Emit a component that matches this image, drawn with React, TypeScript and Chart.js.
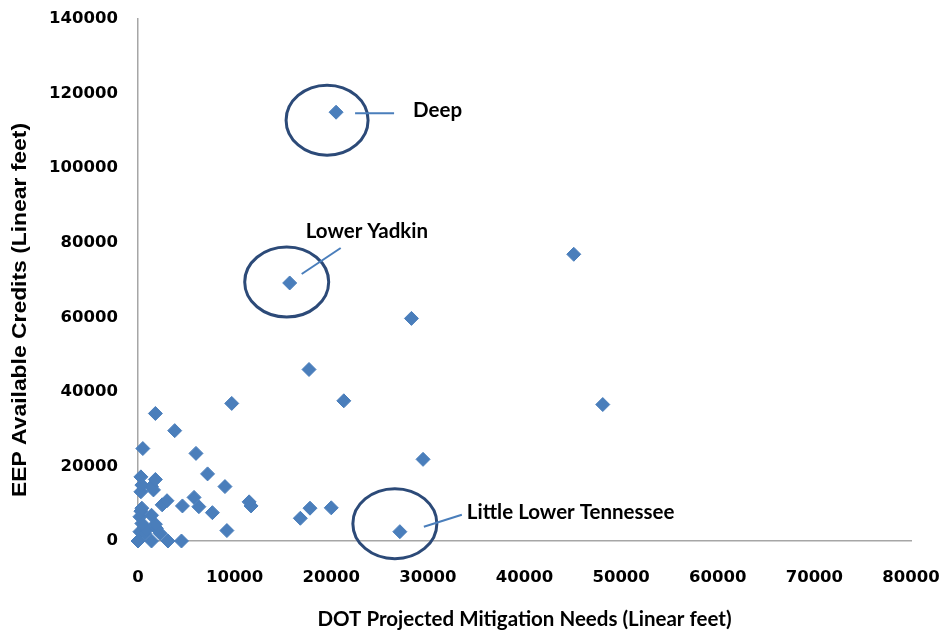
import React, { useEffect, useRef } from "react";
import { Chart, registerables } from "chart.js";

Chart.register(...registerables);

// DOT projected mitigation needs (linear feet) per river basin
const needsX = [
  0, 1400, 3100, 4500,
  200, 700, 2300, 900, 1900,
  400, 1800, 200, 1400, 300, 400,
  2500, 3000, 4600, 5800, 6300, 7700,
  9200, 11700, 11500, 17800, 16800, 20000, 27100,
  300, 1600, 1400, 400, 9000,
  300, 1800, 7200,
  500, 6000, 3800, 1800, 9700,
  17700, 21300, 29500, 28300, 45100, 48100,
  15700, 20500,
];
// EEP available credits (linear feet)
const creditsY = [
  0, 0, 0, 0,
  2500, 2000, 2000, 3000, 3400,
  4700, 4500, 6500, 6900, 8000, 8800,
  9700, 10800, 9400, 11700, 9200, 7600,
  2800, 9400, 10500, 8800, 6100, 8900, 2500,
  13200, 13700, 14600, 15000, 14600,
  17200, 16500, 18000,
  24800, 23500, 29600, 34200, 36900,
  46000, 37600, 21900, 59700, 76900, 36600,
  69200, 115000,
];

const xTicks = [0, 10000, 20000, 30000, 40000, 50000, 60000, 70000, 80000];
const yTicks = [0, 20000, 40000, 60000, 80000, 100000, 120000, 140000];

const xTitle = "DOT Projected Mitigation Needs (Linear feet)";
const yTitle = "EEP Available Credits (Linear feet)";

// Highlighted basins (index into the data arrays)
const calloutLabels = ["Deep", "Lower Yadkin", "Little Lower Tennessee"];
const calloutIndex = [48, 47, 27];

// Drawing geometry for callouts (pixel offsets from the marked point)
const CALLOUT_GEOM = [
  { ex: -9, ey: 8, rx: 41, ry: 35, l1: [19, 1], l2: [58, 1], t: [77, -2] },
  { ex: -3, ey: -1, rx: 42, ry: 35, l1: [12, -9], l2: [51, -35], t: [16, -52] },
  { ex: -5, ey: -8, rx: 42, ry: 35, l1: [24, -5], l2: [62, -17], t: [67, -19] },
];

const MARKER = "#4a7ebb";

const calloutPlugin = {
  id: "callouts",
  afterDatasetsDraw(chart: any) {
    const { ctx, scales } = chart;
    const xs = scales.x;
    const ys = scales.y;
    ctx.save();
    calloutIndex.forEach((idx, i) => {
      const g = CALLOUT_GEOM[i];
      const px = xs.getPixelForValue(needsX[idx]);
      const py = ys.getPixelForValue(creditsY[idx]);
      ctx.beginPath();
      ctx.ellipse(px + g.ex, py + g.ey, g.rx, g.ry, 0, 0, Math.PI * 2);
      ctx.lineWidth = 3;
      ctx.strokeStyle = "#2c4a78";
      ctx.stroke();
      ctx.beginPath();
      ctx.moveTo(px + g.l1[0], py + g.l1[1]);
      ctx.lineTo(px + g.l2[0], py + g.l2[1]);
      ctx.lineWidth = 2;
      ctx.strokeStyle = MARKER;
      ctx.stroke();
      ctx.font = "bold 20.5px Lato";
      ctx.fillStyle = "#000";
      ctx.textAlign = "left";
      ctx.textBaseline = "middle";
      ctx.fillText(calloutLabels[i], px + g.t[0], py + g.t[1]);
    });
    ctx.restore();
  },
};

const yTitlePlugin = {
  id: "yTitle",
  afterDraw(chart: any) {
    const { ctx, chartArea } = chart;
    ctx.save();
    ctx.translate(chartArea.left - 118, (chartArea.top + chartArea.bottom) / 2 + 30);
    ctx.rotate(-Math.PI / 2);
    ctx.font = "bold 20px 'Liberation Sans'";
    const w = ctx.measureText(yTitle).width;
    ctx.scale(374 / w, 1);
    ctx.fillStyle = "#000";
    ctx.textAlign = "center";
    ctx.textBaseline = "middle";
    ctx.fillText(yTitle, 0, 0);
    ctx.restore();
  },
};

export default function App() {
  const canvasRef = useRef<HTMLCanvasElement | null>(null);

  useEffect(() => {
    document.body.style.margin = "0";
    const canvas = canvasRef.current;
    if (!canvas) return;
    const tickFont = { family: "'DejaVu Sans'", weight: "bold" as const, size: 16.5 };
    const chart = new Chart(canvas, {
      type: "scatter",
      data: {
        datasets: [
          {
            data: needsX.map((x, i) => ({ x, y: creditsY[i] })),
            pointStyle: "rectRot",
            pointRadius: 7,
            pointBackgroundColor: MARKER,
            pointBorderColor: MARKER,
            pointBorderWidth: 1,
            showLine: false,
            clip: false,
          },
        ],
      },
      options: {
        responsive: false,
        animation: false,
        layout: { padding: { left: 0, top: 19, right: 33, bottom: 0 } },
        plugins: { legend: { display: false }, tooltip: { enabled: false } },
        scales: {
          x: {
            type: "linear",
            min: 0,
            max: 80000,
            afterBuildTicks: (s: any) => {
              s.ticks = xTicks.map((v) => ({ value: v }));
            },
            afterFit: (s: any) => {
              s.height = 96;
            },
            grid: {
              display: true,
              drawOnChartArea: false,
              drawTicks: true,
              tickLength: 27,
              tickColor: "rgba(0,0,0,0)",
              color: "rgba(0,0,0,0)",
            },
            border: { display: true, color: "#a6a6a6", width: 1.5 },
            ticks: {
              font: tickFont,
              color: "#000",
              padding: 0,
              maxRotation: 0,
              autoSkip: false,
              callback: (v: any) => String(v),
            },
            title: {
              display: true,
              text: xTitle,
              color: "#000",
              font: { family: "Lato", weight: "bold", size: 20.5 },
              padding: { top: 0, bottom: 5 },
            },
          },
          y: {
            type: "linear",
            min: 0,
            max: 140000,
            afterBuildTicks: (s: any) => {
              s.ticks = yTicks.map((v) => ({ value: v }));
            },
            afterFit: (s: any) => {
              s.width = 138;
            },
            grid: {
              display: true,
              drawOnChartArea: false,
              drawTicks: true,
              tickLength: 20,
              tickColor: "rgba(0,0,0,0)",
              color: "rgba(0,0,0,0)",
            },
            border: { display: true, color: "#a6a6a6", width: 1.5 },
            ticks: {
              font: tickFont,
              color: "#000",
              padding: 0,
              autoSkip: false,
              callback: (v: any) => String(v),
            },
          },
        },
      },
      plugins: [calloutPlugin, yTitlePlugin],
    });
    return () => chart.destroy();
  }, []);

  return (
    <div style={{ width: 944, height: 637, background: "#fff" }}>
      <canvas ref={canvasRef} width={944} height={637} />
    </div>
  );
}
